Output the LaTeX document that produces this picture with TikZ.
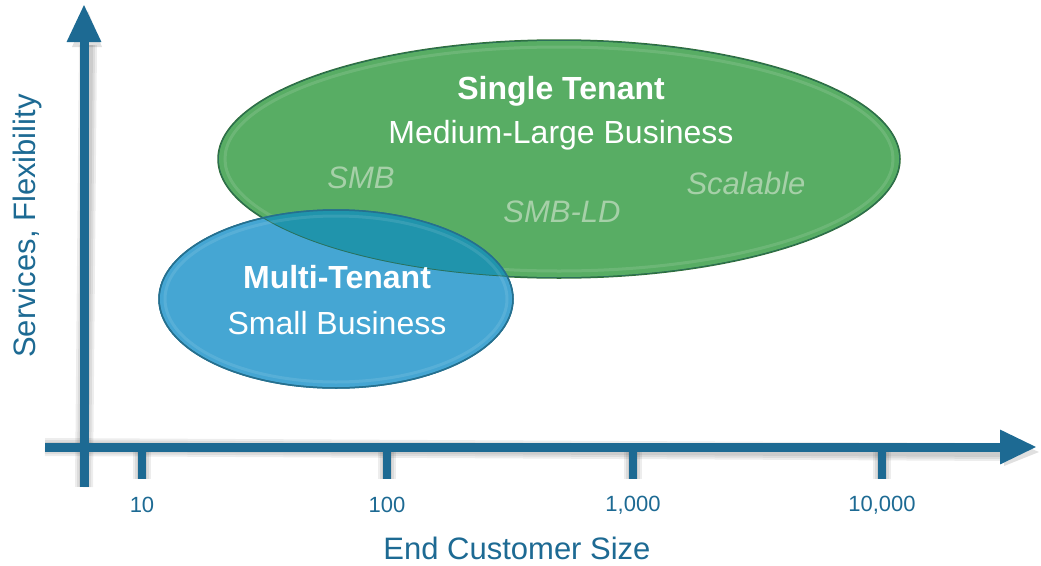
\documentclass[tikz,border=0pt]{standalone}
\usepackage{fontspec}
\setmainfont{Liberation Sans}
\usetikzlibrary{arrows.meta,shapes.geometric}
\definecolor{axisblue}{HTML}{1D6A93}
\definecolor{stgreen}{HTML}{58AD64}
\definecolor{stgreenedge}{HTML}{2F6E35}
\definecolor{mtblue}{HTML}{45A6D3}
\definecolor{mtblueedge}{HTML}{25708F}
\definecolor{overlap}{HTML}{2094AC}
\definecolor{faintgreen}{HTML}{A6D0A8}
\tikzset{
  axisline/.style={draw=axisblue, line width=9pt},
  tickline/.style={draw=axisblue, line width=8pt},
  shadowline/.style={draw=black, opacity=0.07},
  ticklabel/.style={text=axisblue, font=\fontsize{22}{26}\selectfont},
  axislabel/.style={text=axisblue, font=\fontsize{31}{36}\selectfont},
  title/.style={text=white, font=\bfseries\fontsize{32}{38}\selectfont},
  subtitle/.style={text=white, font=\fontsize{32}{38}\selectfont},
  faint/.style={text=faintgreen, font=\itshape\fontsize{31}{36}\selectfont},
  blob/.style={ellipse, inner sep=0pt, line width=1.5pt}
}
\begin{document}
\begin{tikzpicture}[x=1pt,y=-1pt]
\useasboundingbox (0,0) rectangle (1041,565);
% coordinates for axes
\coordinate (ybot) at (84,487);
\coordinate (ytop) at (84,4);
\coordinate (xleft) at (45,447);
\coordinate (xright) at (1037,447);
\foreach \n/\x in {t1/142,t2/387,t3/633,t4/882}{
  \coordinate (\n a) at (\x,447);
  \coordinate (\n b) at (\x,479);
}
% soft shadows
\begin{scope}[shift={(4,5)}]
  \foreach \w in {18,14,10}{
    \draw[shadowline, line width=\w pt] (ybot) -- (84,40);
    \draw[shadowline, line width=\w pt] (xleft) -- (1000,447);
    \foreach \n in {t1,t2,t3,t4}{\draw[shadowline, line width=\w pt] (\n a) -- (\n b);}
  }
  \fill[black,opacity=0.12] (68,42) -- (84,6) -- (98,42) -- cycle;
  \fill[black,opacity=0.12] (1000,432) -- (1035,447) -- (1000,461) -- cycle;
\end{scope}
% axes
\draw[axisline,-{Triangle[length=38pt,width=32pt]}] (ybot) -- (ytop);
\draw[axisline,-{Triangle[length=37pt,width=32pt]}] (xleft) -- (xright);
\foreach \n in {t1,t2,t3,t4}{\draw[tickline] (\n a) -- (\n b);}
% tick labels
\node[ticklabel] (l10) at (142,505) {10};
\node[ticklabel] (l100) at (387,505) {100};
\node[ticklabel] (l1000) at (633,505) {1,000};
\node[ticklabel] (l10000) at (882,505) {10,000};
\node[axislabel] (xlab) at (517,548) {End Customer Size};
\node[axislabel, rotate=90] (ylab) at (27,226) {Services, Flexibility};
% ellipses
\node[blob, fill=stgreen, draw=stgreenedge, minimum width=682pt, minimum height=238pt] (single) at (559,159) {};
\draw[white, opacity=0.12, line width=3pt] (559,159) ellipse [x radius=334pt, y radius=112pt];
\node[blob, fill=mtblue, draw=mtblueedge, minimum width=354pt, minimum height=178pt] (multi) at (336,299) {};
\begin{scope}
  \clip (559,159) ellipse [x radius=341pt, y radius=119pt];
  \fill[overlap] (336,299) ellipse [x radius=177pt, y radius=89pt];
  \draw[stgreenedge!60!mtblueedge, line width=1.5pt] (559,159) ellipse [x radius=341pt, y radius=119pt];
\end{scope}
\draw[mtblueedge, line width=1.5pt] (336,299) ellipse [x radius=177pt, y radius=89pt];
\draw[white, opacity=0.1, line width=3pt] (336,299) ellipse [x radius=171pt, y radius=83pt];
% texts
\node[title] (st) at (561,91) {Single Tenant};
\node[subtitle] (stsub) at (561,135) {Medium-Large Business};
\node[faint] (smb) at (361,178) {SMB};
\node[faint] (smbld) at (562,212) {SMB-LD};
\node[faint] (scal) at (746,183) {Scalable};
\node[title] (mt) at (337,277) {Multi-Tenant};
\node[subtitle] (mtsub) at (337,323) {Small Business};
\end{tikzpicture}
\end{document}
